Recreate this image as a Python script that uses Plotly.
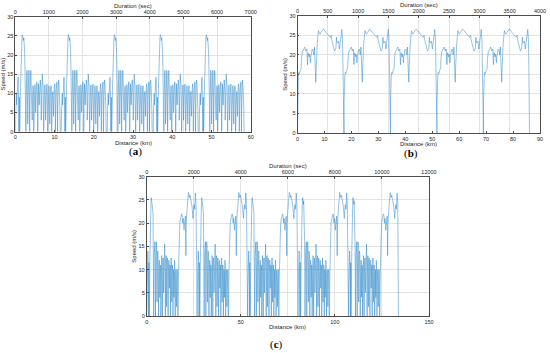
import plotly.graph_objects as go

# ---------------- data ----------------
# (a) one repeated urban/suburban cycle: distance within cycle (km), speed (m/s)
a_cycle_km = [0.00, 0.06, 0.15, 0.25, 0.33, 0.42, 0.52, 0.62, 0.70, 0.78, 0.86, 0.92, 0.98, 1.05, 1.12,
              1.22, 1.32, 1.42, 1.52, 1.62, 1.72, 1.82, 1.92, 2.00, 2.08, 2.16, 2.26, 2.36, 2.46, 2.54,
              2.62, 2.70, 2.78, 2.86, 2.94, 3.02, 3.10, 3.16, 3.26, 3.36, 3.44, 3.52, 3.60, 3.66, 3.76,
              3.86, 3.94, 4.02, 4.10, 4.16, 4.22, 4.32, 4.42, 4.52, 4.62, 4.70, 4.80, 4.90, 5.00, 5.10,
              5.18, 5.28, 5.38, 5.48, 5.58, 5.66, 5.72, 5.82, 5.92, 6.02, 6.10, 6.18, 6.28, 6.38, 6.46,
              6.54, 6.62, 6.70, 6.78, 6.88, 6.98, 7.08, 7.16, 7.24, 7.34, 7.44, 7.54, 7.64, 7.72, 7.78,
              7.88, 7.98, 8.08, 8.18, 8.26, 8.36, 8.46, 8.56, 8.66, 8.74, 8.80, 8.90, 9.00, 9.10, 9.20,
              9.28, 9.38, 9.48, 9.58, 9.66, 9.74, 9.84, 9.94, 10.04, 10.14, 10.22, 10.32, 10.42, 10.52,
              10.62, 10.70, 10.76, 10.86, 10.96, 11.06, 11.16, 11.26, 11.36, 11.44]
a_cycle_speed = [0, 5, 9, 10, 7, 10.5, 12, 13.5, 14.2, 11, 4, 0, 6, 9, 0,
                 4, 11, 17, 21, 23, 24.8, 25.3, 24.6, 25, 23.8, 24.5, 23, 21.5, 17, 11,
                 5, 0, 8, 13, 16, 15.6, 9, 2, 7, 13, 16, 15.5, 8, 0, 9,
                 14, 16, 15, 10, 4, 6, 3, 10.5, 12, 11, 0, 7, 11, 12.3, 10,
                 5, 8, 11.5, 13, 12, 6, 0, 7, 12.5, 11, 7, 10, 12, 13.5, 12,
                 9, 3, 6, 11, 15, 13, 12, 6, 0, 6, 11, 12.2, 11.5, 3, 7,
                 8, 11.5, 12.4, 10, 0, 5, 10, 12, 11, 6, 2, 7, 11, 12, 10.5,
                 0, 6, 9.5, 10.5, 9, 4, 8, 11.5, 12.5, 11, 0, 7, 11, 12.5,
                 13, 8, 0, 8, 12, 13.5, 12, 10, 6, 0]
a_cycle_starts_km = [0.0, 11.72, 23.44, 35.16, 46.88]

# (b) one repeated highway cycle
b_cycle_km = [0.00, 0.05, 0.12, 0.30, 0.50, 0.70, 0.99, 1.20, 1.36, 1.50, 1.61, 1.80, 1.98, 2.15, 2.35,
              2.55, 2.72, 2.90, 3.09, 3.30, 3.50, 3.62, 3.71, 3.85, 3.96, 4.15, 4.33, 4.45, 4.57, 4.70,
              4.82, 4.95, 5.10, 5.19, 5.40, 5.69, 5.90, 6.05, 6.18, 6.30, 6.45, 6.60, 6.80, 6.95, 7.05,
              7.17, 7.35, 7.54, 7.65, 7.79, 7.95, 8.16, 8.35, 8.53, 8.75, 9.02, 9.30, 9.55, 9.77, 10.00,
              10.26, 10.50, 10.88, 11.20, 11.50, 11.80, 12.11, 12.30, 12.48, 12.65, 12.86, 13.10, 13.35,
              13.55, 13.72, 13.95, 14.22, 14.35, 14.46, 14.60, 14.71, 14.95, 15.20, 15.40, 15.57, 15.75,
              15.95, 16.20, 16.44, 16.55, 16.69, 16.85, 17.00, 17.10]
b_cycle_speed = [0, 8, 14, 14.5, 15.5, 15.2, 16, 16.3, 16.5, 19, 20.5, 20.8, 21, 21.3, 21.5,
                 21.8, 22, 21.5, 21, 21.3, 21.5, 19, 17.5, 19.5, 20.5, 20, 19.5, 20.2, 20, 19,
                 18, 19.5, 20.5, 21, 21.3, 21.5, 20.5, 20, 21, 22, 19, 15, 13, 17, 20,
                 21, 23, 24.5, 25.5, 26.2, 25.8, 25.5, 25.3, 25.6, 25.9, 26, 26.3, 26.6, 26.5, 26.2,
                 26, 25.8, 25.5, 25.2, 25, 24.8, 24.5, 24.8, 25, 24, 23, 22.5, 22,
                 21.5, 21, 21.3, 21.5, 23, 24.5, 23.5, 23, 23.2, 23.5, 22.5, 21.5, 22.5,
                 24, 25.5, 26.5, 25.5, 24, 18, 8, 0]
b_cycle_starts_km = [0.0, 17.25, 34.5, 51.75, 69.0]

# (c) one repeated combined cycle
c_cycle_km = [0.00, 0.10, 0.22, 0.35, 0.45, 0.53, 0.62, 0.75, 0.90, 1.00, 1.08, 1.18, 1.30, 1.40, 1.55,
              1.70, 1.85, 2.00, 2.13, 2.30, 2.45, 2.60, 2.72, 2.85, 3.01, 3.15, 3.36, 3.50, 3.62, 3.72,
              3.85, 3.98, 4.10, 4.25, 4.40, 4.55, 4.65, 4.80, 4.95, 5.10, 5.25, 5.38, 5.48, 5.62, 5.76,
              5.90, 6.05, 6.18, 6.28, 6.42, 6.56, 6.70, 6.84, 6.95, 7.10, 7.25, 7.40, 7.52, 7.66, 7.80,
              7.95, 8.10, 8.22, 8.32, 8.46, 8.60, 8.75, 8.88, 9.00, 9.14, 9.28, 9.42, 9.56, 9.70, 9.82,
              9.92, 10.06, 10.20, 10.34, 10.48, 10.60, 10.74, 10.88, 11.02, 11.16, 11.28, 11.38, 11.52,
              11.66, 11.80, 11.94, 12.05, 12.20, 12.34, 12.48, 12.60, 12.74, 12.88, 13.02, 13.16, 13.28,
              13.42, 13.56, 13.70, 13.84, 13.95, 14.10, 14.24, 14.38, 14.50, 14.64, 14.78, 14.92, 15.06,
              15.16, 15.30, 15.44, 15.58, 15.72, 15.84, 15.98, 16.12, 16.26, 16.40, 16.52, 16.70, 16.85,
              17.00, 17.20, 17.40, 17.60, 17.71, 17.90, 18.05, 18.24, 18.45, 18.60, 18.77, 18.95, 19.13,
              19.30, 19.48, 19.65, 19.83, 20.00, 20.19, 20.35, 20.54, 20.70, 20.82, 20.95, 21.10, 21.25,
              21.45, 21.60, 21.80, 21.96, 22.15, 22.31, 22.50, 22.67, 22.85, 23.02, 23.20, 23.38, 23.55,
              23.73, 23.90, 24.08, 24.25, 24.44, 24.60, 24.79, 24.95, 25.15, 25.32, 25.50, 25.68, 25.85,
              26.02, 26.21, 26.35, 26.48, 26.56]
c_cycle_speed = [0, 6, 10, 8, 12, 13.5, 14, 12, 7, 0, 8, 11.5, 6, 0, 5,
                 12, 18, 22, 23.5, 24.8, 25.5, 25, 25.3, 24, 24.8, 23, 22, 16, 8, 0,
                 7, 13, 16, 15.5, 16, 8, 0, 9, 14, 16, 15, 7, 3, 9, 13,
                 14, 13, 5, 0, 8, 11, 12, 11, 4, 7, 11, 10.5, 0, 9, 12,
                 13, 12, 4, 0, 8, 11.5, 12.5, 11, 5, 10, 13, 14.5, 15.5, 13, 6,
                 0, 9, 12.5, 13, 12, 2, 8, 12, 12.5, 11.5, 5, 0, 8,
                 11.5, 12, 11, 6, 9, 11, 10.5, 0, 8, 12, 12.5, 11, 3,
                 7, 10.5, 11, 9, 0, 8, 10, 9.5, 4, 9, 12, 11, 6,
                 0, 7, 9.5, 10, 8, 2, 6, 9, 10, 9, 0, 0, 8,
                 14, 16, 17.5, 20, 20.5, 21.5, 21, 21.5, 21.8, 22, 21.8, 21, 20,
                 21, 21, 19, 18.5, 19.5, 20, 21, 21.5, 17, 13, 18, 21, 22,
                 24, 25, 26, 26.3, 26.6, 26.4, 25.8, 25.5, 25.8, 26, 25.3, 25, 24.8,
                 24.5, 24, 23.5, 22.5, 21.5, 21, 22.5, 23.5, 24, 23.8, 23, 24.5, 26.5,
                 25.5, 24, 16, 6, 0]
c_cycle_starts_km = [0.0, 26.8, 53.6, 80.4, 107.2]


def repeat(cycle_km, cycle_v, starts):
    xs, ys = [], []
    for s in starts:
        xs += [s + d for d in cycle_km]
        ys += list(cycle_v)
    return xs, ys


ax_x, ax_y = repeat(a_cycle_km, a_cycle_speed, a_cycle_starts_km)
bx_x, bx_y = repeat(b_cycle_km, b_cycle_speed, b_cycle_starts_km)
cx_x, cx_y = repeat(c_cycle_km, c_cycle_speed, c_cycle_starts_km)

LINE = dict(color="#2a86c8", width=0.5)
FONT = "Liberation Sans, Arial, sans-serif"
TICKF = dict(family=FONT, size=5.5, color="#262626")
TITLEF = dict(family=FONT, size=6, color="#262626")
AXC = "#4d4d4d"
GRID = "#e3e3e3"

fig = go.Figure()
fig.add_trace(go.Scatter(x=ax_x, y=ax_y, mode="lines", line=LINE, xaxis="x", yaxis="y",
                         showlegend=False, hoverinfo="skip"))
fig.add_trace(go.Scatter(x=bx_x, y=bx_y, mode="lines", line=LINE, xaxis="x3", yaxis="y2",
                         showlegend=False, hoverinfo="skip"))
fig.add_trace(go.Scatter(x=cx_x, y=cx_y, mode="lines", line=LINE, xaxis="x5", yaxis="y3",
                         showlegend=False, hoverinfo="skip"))
# empty traces so that the top (duration) axes are drawn
for xa, ya in (("x2", "y"), ("x4", "y2"), ("x6", "y3")):
    fig.add_trace(go.Scatter(x=[], y=[], mode="lines", xaxis=xa, yaxis=ya,
                             showlegend=False, hoverinfo="skip"))


def bottom_axis(domain, anchor, rng, dtick):
    return dict(domain=domain, anchor=anchor, range=rng, dtick=dtick, showgrid=False,
                zeroline=False, showline=True, linecolor=AXC, linewidth=0.8, ticks="inside",
                ticklen=2, tickcolor=AXC, tickwidth=0.6, tickfont=TICKF, automargin=False,
                tickformat="d")


def top_axis(overlay, anchor, rng, dtick):
    return dict(overlaying=overlay, anchor=anchor, side="top", range=rng, dtick=dtick,
                showgrid=True, gridcolor=GRID, gridwidth=0.6, zeroline=False, showline=True,
                linecolor=AXC, linewidth=0.8, ticks="inside", ticklen=2, tickcolor=AXC,
                tickwidth=0.6, tickfont=TICKF, automargin=False, tickformat="d")


def y_axis(domain, anchor):
    return dict(domain=domain, anchor=anchor, range=[0, 30], dtick=5, showgrid=True,
                gridcolor=GRID, gridwidth=0.6, zeroline=False, showline=True, mirror=True,
                linecolor=AXC, linewidth=0.8, ticks="inside", ticklen=2, tickcolor=AXC,
                tickwidth=0.6, tickfont=TICKF, automargin=False,
                title=dict(text="Speed (m/s)", font=TITLEF, standoff=1))


W, H = 550, 353
def px_x(a, b):
    return [a / W, b / W]
def px_y(top, bottom):
    return [1 - bottom / H, 1 - top / H]

panels = {  # left, right, top, bottom in pixels
    "a": (15.3, 250.7, 16.7, 131.7),
    "b": (297.5, 540.0, 15.8, 133.0),
    "c": (146.7, 429.0, 176.7, 316.0),
}

SERIF = dict(family="Liberation Serif, Times New Roman, serif", size=11, color="black")
MID = dict(xref="paper", yref="paper", showarrow=False, xanchor="center", yanchor="middle")
annotations = []
for key, (l, r, t, b) in panels.items():
    cx = (l + r) / 2 / W
    annotations.append(dict(text="Distance (km)", x=cx, y=1 - (b + 10.8) / H, font=TITLEF, **MID))
    annotations.append(dict(text="Duration (sec)", x=cx, y=1 - (t - 10.5) / H, font=TITLEF, **MID))
annotations += [
    dict(text="(<b>a</b>)", x=135 / W, y=1 - 151 / H, font=SERIF, **MID),
    dict(text="(<b>b</b>)", x=411 / W, y=1 - 153 / H, font=SERIF, **MID),
    dict(text="(<b>c</b>)", x=276 / W, y=1 - 344 / H, font=SERIF, **MID),
]

fig.update_layout(
    width=W, height=H, margin=dict(l=0, r=0, t=0, b=0, autoexpand=False),
    paper_bgcolor="white", plot_bgcolor="white",
    xaxis=bottom_axis(px_x(*panels["a"][:2]), "y", [0, 60], 10),
    xaxis2=top_axis("x", "y", [0, 7000], 1000),
    yaxis=y_axis(px_y(*panels["a"][2:]), "x"),
    xaxis3=bottom_axis(px_x(*panels["b"][:2]), "y2", [0, 90], 10),
    xaxis4=top_axis("x3", "y2", [0, 4000], 500),
    yaxis2=y_axis(px_y(*panels["b"][2:]), "x3"),
    xaxis5=bottom_axis(px_x(*panels["c"][:2]), "y3", [0, 150], 50),
    xaxis6=top_axis("x5", "y3", [0, 12000], 2000),
    yaxis3=y_axis(px_y(*panels["c"][2:]), "x5"),
    annotations=annotations,
)

# remove the browser's default 8px page margin so the figure sits at the window's corner
fig.write_html("out.html", config={"displayModeBar": False},
               post_script="document.body.style.margin='0px';")
